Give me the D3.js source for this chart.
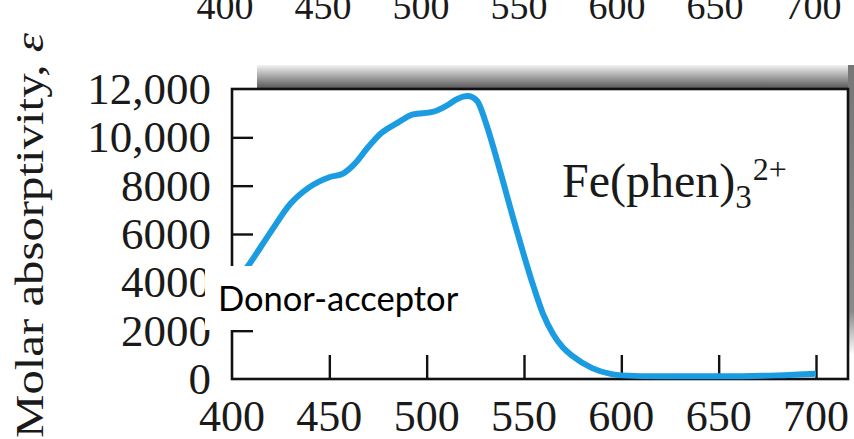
<!DOCTYPE html>
<html>
<head>
<meta charset="utf-8">
<script src="https://cdn.jsdelivr.net/npm/d3@7"></script>
<style>
  body { margin: 0; background: #fff; }
  svg { display: block; }
  .tick-label { font-family: "Liberation Serif", "Times New Roman", serif; font-size: 44px; fill: #1a1a1a; }
</style>
</head>
<body>
<svg class="chart" width="854" height="439"></svg>
<script>
// ABSORPTION SPECTRUM OF Fe(phen)3 2+

// wavelength (nm) and molar absorptivity
var wavelengths = [400, 408, 420, 430, 440, 450, 457, 463, 470, 476, 485, 493, 503, 510, 516, 521, 526, 530, 536, 545, 555, 560, 565, 570, 575, 585, 595, 600, 620, 650, 680, 700];
var absorptivity = [3800, 4650, 6100, 7250, 7950, 8350, 8500, 8900, 9600, 10130, 10600, 10950, 11050, 11300, 11600, 11710, 11500, 10700, 9100, 6500, 3800, 2650, 1850, 1300, 950, 450, 200, 150, 110, 110, 150, 220];

// axis ticks
var xTicks = [400, 450, 500, 550, 600, 650, 700];
var yTicks = [0, 2000, 4000, 6000, 8000, 10000, 12000];
var yTickLabels = ["0", "2000", "4000", "6000", "8000", "10,000", "12,000"];

// ticks of the panel above, cut off by the crop
var topTicks = [400, 450, 500, 550, 600, 650, 700];

var canvasWidth = 854;
var canvasHeight = 439;

var svg = d3.select(".chart");

// scales
var x = d3.scaleLinear().domain([400, 700]).range([232, 816]);
var y = d3.scaleLinear().domain([0, 12000]).range([379, 89]);
var xTop = d3.scaleLinear().domain([400, 700]).range([225, 813]);

var boxRight = 848;

var defs = svg.append("defs");
var shade = defs.append("linearGradient")
    .attr("id", "shade")
    .attr("x1", 0).attr("y1", 0).attr("x2", 0).attr("y2", 1);
shade.append("stop").attr("offset", "0%").attr("stop-color", "#f2f2f2");
shade.append("stop").attr("offset", "100%").attr("stop-color", "#5a5a5a");

var shadeSide = defs.append("linearGradient")
    .attr("id", "shadeSide")
    .attr("x1", 0).attr("y1", 0).attr("x2", 0).attr("y2", 1);
shadeSide.append("stop").attr("offset", "0%").attr("stop-color", "#777");
shadeSide.append("stop").attr("offset", "85%").attr("stop-color", "#8a8a8a");
shadeSide.append("stop").attr("offset", "100%").attr("stop-color", "#fff");

// cut off labels at the very top
svg.append("g").selectAll("text")
    .data(topTicks)
    .enter().append("text")
    .attr("class", "tick-label")
    .style("font-size", "38px")
    .attr("x", function (d) { return xTop(d); })
    .attr("y", 19)
    .style("text-anchor", "middle")
    .text(function (d) { return d; });

// shadow behind the frame
svg.append("rect")
    .attr("x", 257).attr("y", 65)
    .attr("width", canvasWidth - 257).attr("height", 23)
    .attr("fill", "url(#shade)");
svg.append("rect")
    .attr("x", boxRight).attr("y", 65)
    .attr("width", canvasWidth - boxRight).attr("height", 290)
    .attr("fill", "url(#shadeSide)");

// frame
svg.append("rect")
    .attr("x", x(400)).attr("y", y(12000))
    .attr("width", boxRight - x(400)).attr("height", y(0) - y(12000))
    .attr("fill", "#fff")
    .attr("stroke", "#111")
    .attr("stroke-width", 2.6);

// axes with inward ticks
var xAxis = d3.axisTop(x)
    .tickValues(xTicks.slice(1))
    .tickSize(24)
    .tickFormat("");
var yAxis = d3.axisRight(y)
    .tickValues(yTicks.slice(1, -1))
    .tickSize(21)
    .tickFormat("");

svg.append("g")
    .attr("transform", "translate(0," + y(0) + ")")
    .call(xAxis)
    .call(function (g) { g.select(".domain").remove(); })
    .selectAll("line").attr("stroke", "#111").attr("stroke-width", 2.4);

svg.append("g")
    .attr("transform", "translate(" + x(400) + ",0)")
    .call(yAxis)
    .call(function (g) { g.select(".domain").remove(); })
    .selectAll("line").attr("stroke", "#111").attr("stroke-width", 2.4);

// tick labels
svg.append("g").selectAll("text")
    .data(xTicks)
    .enter().append("text")
    .attr("class", "tick-label")
    .attr("x", function (d) { return x(d); })
    .attr("y", 431)
    .style("text-anchor", "middle")
    .text(function (d) { return d; });

svg.append("g").selectAll("text")
    .data(yTicks)
    .enter().append("text")
    .attr("class", "tick-label")
    .style("font-size", "45px")
    .attr("x", 211)
    .attr("y", function (d) { return y(d) + 15; })
    .style("text-anchor", "end")
    .text(function (d, i) { return yTickLabels[i]; });

// y axis title
var yTitle = svg.append("text")
    .attr("transform", "translate(43,438) rotate(-90) scale(1.22,1)")
    .style("font-family", "'Liberation Serif', 'Times New Roman', serif")
    .style("font-size", "40px")
    .attr("fill", "#1a1a1a");
yTitle.append("tspan").text("Molar absorptivity, ");
yTitle.append("tspan").style("font-style", "italic").text("ε");

// spectrum
var points = wavelengths.map(function (w, i) { return { w: w, a: absorptivity[i] }; });
var line = d3.line()
    .x(function (d) { return x(d.w); })
    .y(function (d) { return y(d.a); })
    .curve(d3.curveMonotoneX);

svg.append("path")
    .datum(points)
    .attr("d", line)
    .attr("fill", "none")
    .attr("stroke", "#1b9ce2")
    .attr("stroke-width", 6)
    .attr("stroke-linecap", "butt")
    .attr("stroke-linejoin", "round");

// compound label
var label = svg.append("text")
    .attr("x", 562)
    .attr("y", 197)
    .style("font-family", "'Liberation Serif', 'Times New Roman', serif")
    .style("font-size", "48px")
    .attr("fill", "#1a1a1a");
label.append("tspan").text("Fe(phen)");
label.append("tspan").attr("dy", 11).style("font-size", "33px").text("3");
label.append("tspan").attr("dy", -28).attr("dx", 1).style("font-size", "32px").text("2+");

// white box pasted over the chart
svg.append("rect")
    .attr("x", 205).attr("y", 266)
    .attr("width", 265).attr("height", 64)
    .attr("fill", "#fff");
svg.append("text")
    .attr("x", 218)
    .attr("y", 311)
    .style("font-family", "Lato, 'Open Sans', sans-serif")
    .style("font-size", "34.5px")
    .attr("fill", "#000")
    .text("Donor-acceptor");
</script>
</body>
</html>
